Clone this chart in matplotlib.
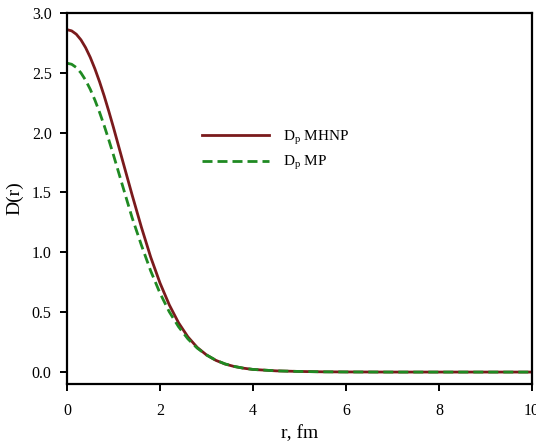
import matplotlib
matplotlib.use("Agg")
import matplotlib.pyplot as plt

plt.rcParams['font.family'] = ['Liberation Serif', 'DejaVu Serif']
plt.rcParams['mathtext.fontset'] = 'custom'
plt.rcParams['mathtext.rm'] = 'Liberation Serif'
plt.rcParams['mathtext.it'] = 'Liberation Serif'

# radial grid (fm)
r = [0.0, 0.1, 0.2, 0.3, 0.4, 0.5, 0.6, 0.7, 0.8, 0.9, 1.0, 1.2, 1.4, 1.6,
     1.8, 2.0, 2.2, 2.4, 2.6, 2.8, 3.0, 3.2, 3.4, 3.6, 3.8, 4.0, 4.5, 5.0,
     5.5, 6.0, 7.0, 8.0, 9.0, 10.0]

# proton densities
d_mhnp = [2.86, 2.850, 2.822, 2.775, 2.710, 2.629, 2.533, 2.425, 2.306, 2.177,
          2.042, 1.76, 1.48, 1.21, 0.96, 0.744, 0.561, 0.411, 0.294, 0.206,
          0.143, 0.098, 0.067, 0.046, 0.032, 0.022, 0.010, 0.005, 0.002, 0.001,
          0.0, 0.0, 0.0, 0.0]
d_mp = [2.58, 2.571, 2.544, 2.499, 2.438, 2.362, 2.272, 2.170, 2.058, 1.938,
        1.812, 1.55, 1.29, 1.06, 0.845, 0.659, 0.503, 0.378, 0.277, 0.200,
        0.143, 0.099, 0.068, 0.047, 0.032, 0.022, 0.010, 0.005, 0.002, 0.001,
        0.0, 0.0, 0.0, 0.0]

labels = [r'D$_\mathrm{p}$ MHNP', r'D$_\mathrm{p}$ MP']
xticks = [0, 2, 4, 6, 8, 10]
yticks = [0.0, 0.5, 1.0, 1.5, 2.0, 2.5, 3.0]

fig = plt.figure(figsize=(5.36, 4.45), dpi=100)
ax = fig.add_axes([0.125, 0.137, 0.8675, 0.834])

ax.plot(r, d_mhnp, color='#7a1a1c', lw=2.0, label=labels[0])
ax.plot(r, d_mp, color='#1f8a22', lw=2.0, dashes=(3.6, 1.8), label=labels[1])

ax.set_xlim(0, 10)
ax.set_ylim(-0.1, 3.0)
ax.set_xticks(xticks)
ax.set_yticks(yticks)
ax.set_xticklabels([str(t) for t in xticks])
ax.set_yticklabels([f'{t:.1f}' for t in yticks])

for s in ax.spines.values():
    s.set_linewidth(1.6)
ax.tick_params(direction='out', length=5, width=1.4, labelsize=11.5,
               colors='black', pad=6)
ax.tick_params(axis='x', pad=9)

ax.set_xlabel('r, fm', fontsize=14, labelpad=4)
ax.set_ylabel('D(r)', fontsize=14, labelpad=6)

ax.legend(loc='upper left', bbox_to_anchor=(0.26, 0.725), frameon=False,
          fontsize=11, handlelength=4.4, handletextpad=0.9, labelspacing=0.5)

fig.savefig('out.png', dpi=100)
